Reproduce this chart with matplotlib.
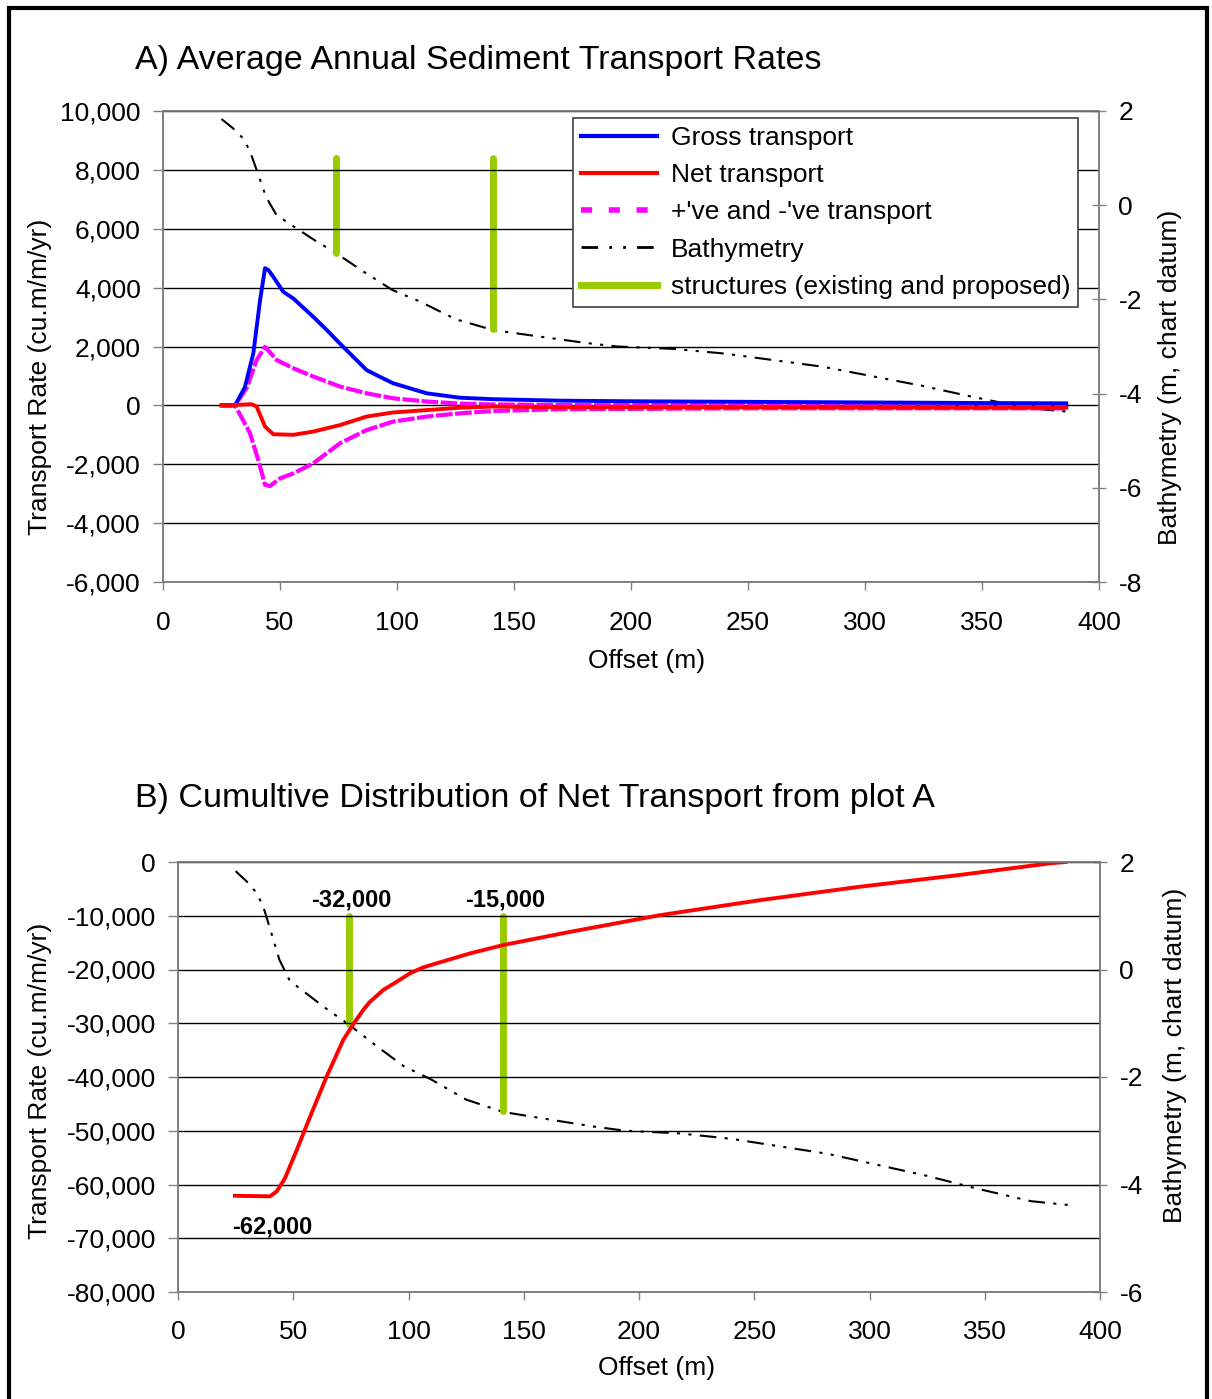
import numpy as np
import matplotlib
matplotlib.use('Agg')
import matplotlib.pyplot as plt
from matplotlib.lines import Line2D
from matplotlib.patches import Rectangle
from matplotlib.ticker import FuncFormatter, MultipleLocator

plt.rcParams['font.family'] = ['Liberation Sans', 'DejaVu Sans']

# bathymetry profile (m, chart datum) - same in both plots
bathy_x = [25, 30, 34, 37, 40.5, 44, 48.5, 57, 65, 74, 86, 98, 110, 125, 141,
           161, 180, 194, 218, 240, 261, 282, 303, 325, 346, 370, 386]
bathy_z = [1.83, 1.63, 1.43, 1.17, 0.68, 0.18, -0.21, -0.49, -0.75, -1.02, -1.42,
           -1.80, -2.05, -2.42, -2.65, -2.79, -2.92, -3.0, -3.05, -3.15, -3.29,
           -3.43, -3.63, -3.84, -4.07, -4.31, -4.38]

# plot A transport rates
gross_x = [25, 30.8, 35, 38.6, 41.5, 43.6, 45, 47.1, 51.4, 55.7, 64.2, 70, 75.6,
           81.3, 87, 92.7, 98.4, 112.7, 126.9, 141.2, 169.7, 200, 250, 300, 350, 386]
gross = [0, 0, 620, 1770, 3580, 4660, 4600, 4370, 3860, 3630, 3010, 2560, 2100,
         1650, 1200, 970, 750, 410, 260, 210, 160, 140, 120, 100, 80, 70]

net_x = [25, 35, 37.9, 40, 43.6, 47.1, 55.7, 64.2, 75.6, 87, 98.4, 112.7, 126.9,
         141.2, 170, 250, 386]
net = [0, 30, 40, -40, -720, -980, -1000, -890, -670, -380, -240, -160, -80,
       -40, -60, -60, -80]

pos_x = [25, 30.8, 35.8, 40, 43.6, 48.6, 55.7, 64.2, 75.6, 87, 98.4, 112.7,
         126.9, 141.2, 170, 250, 386]
pos = [0, 0, 600, 1540, 1990, 1540, 1260, 980, 640, 410, 240, 130, 60, 30, 10,
       0, -20]

neg_x = [25, 30.8, 37.2, 40.7, 43.6, 45.7, 50, 55.7, 64.2, 75.6, 87, 98.4, 112.7,
         126.9, 141.2, 170, 250, 386]
neg = [0, 0, -950, -1850, -2700, -2740, -2480, -2310, -1970, -1290, -840, -550,
       -380, -270, -190, -130, -100, -100]

# plot B cumulative net transport
cum_x = [24.7, 39.9, 42.8, 46.4, 51.5, 57.3, 64.5, 71.7, 75.4, 80.4, 83.3, 89.1,
         94.9, 100.7, 106.4, 112.2, 126.7, 141.1, 170.1, 209, 252.5, 295.9,
         339.3, 378.3, 385]
cum = [-62100, -62200, -61300, -58850, -53600, -47400, -39900, -33100, -30600,
       -27500, -26000, -23800, -22270, -20700, -19600, -18850, -17000, -15450,
       -13000, -9900, -7100, -4600, -2400, -250, 0]

# structures (offset, top and bottom on bathymetry axis)
struct_x = [74, 141]
struct_top = [1.0, 1.0]
struct_bot = [-1.02, -2.63]

cum_labels = ['-32,000', '-15,000', '-62,000']
cum_label_x = [75, 142, 41]
cum_label_y = [-7100, -7100, -67900]

W, H = 1212, 1399
fig = plt.figure(figsize=(W / 100, H / 100), dpi=100)

FS = 19
green = '#99cc00'
spine_c = '#808080'
comma = FuncFormatter(lambda v, p: f'{v:,.0f}')
intfmt = FuncFormatter(lambda v, p: f'{v:.0f}')
bathy_ls = (0, (8, 4, 1.5, 4, 1.5, 4))


def style_axes(ax, ax2, xpad):
    for a in (ax, ax2):
        for s in a.spines.values():
            s.set_color(spine_c)
            s.set_linewidth(1.2)
    ax.set_xlim(0, 400)
    ax.xaxis.set_major_locator(MultipleLocator(50))
    ax.tick_params(axis='x', direction='out', length=6, width=1, pad=xpad,
                   labelsize=FS, color=spine_c)
    ax.tick_params(axis='y', direction='out', length=7, width=1, pad=9,
                   labelsize=FS, color=spine_c)
    ax2.tick_params(axis='y', direction='inout', length=10, width=1, pad=9,
                    labelsize=FS, color=spine_c)
    ax.yaxis.set_major_formatter(comma)
    ax2.yaxis.set_major_formatter(intfmt)
    ax.grid(axis='y', color='black', linewidth=1.0)
    ax.set_axisbelow(True)


# ---------- plot A ----------
axA = fig.add_axes([163 / W, 1 - 582 / H, 936 / W, 471 / H])
axA2 = axA.twinx()
axA.set_zorder(axA2.get_zorder() + 1)
axA.patch.set_visible(False)

axA2.plot(bathy_x, bathy_z, color='black', lw=1.5, ls=bathy_ls)
for sx, st, sb in zip(struct_x, struct_top, struct_bot):
    axA2.plot([sx, sx], [st, sb], color=green, lw=5, solid_capstyle='round')

axA.plot(pos_x, pos, color='#ff00ff', lw=3, ls=(0, (4, 0.6)))
axA.plot(neg_x, neg, color='#ff00ff', lw=3, ls=(0, (4, 0.6)))
axA.plot(gross_x, gross, color='#0000ff', lw=2.8)
axA.plot(net_x, net, color='#ff0000', lw=2.8)

axA.set_ylim(-6000, 10000)
axA.yaxis.set_major_locator(MultipleLocator(2000))
axA2.set_ylim(-8, 2)
axA2.yaxis.set_major_locator(MultipleLocator(2))
style_axes(axA, axA2, 15)

handles = [
    Line2D([], [], color='#0000ff', lw=3),
    Line2D([], [], color='#ff0000', lw=3),
    Line2D([], [], color='#ff00ff', lw=4, ls=(0, (2, 3))),
    Line2D([], [], color='black', lw=2, ls=(0, (6, 4, 1, 4, 1, 4))),
    Line2D([], [], color=green, lw=5),
]
labels = ['Gross transport', 'Net transport', "+'ve and -'ve transport",
          'Bathymetry', 'structures (existing and proposed)']
leg = axA.legend(handles, labels, loc='upper right',
                 bbox_to_anchor=(0.9776, 0.985), fontsize=FS, frameon=True,
                 fancybox=False, framealpha=1, edgecolor='#404040',
                 handlelength=2.9, handletextpad=0.5, labelspacing=0.5,
                 borderpad=0.3, borderaxespad=0)
leg.get_frame().set_linewidth(1.2)

fig.text(135 / W, 1 - 60 / H, 'A) Average Annual Sediment Transport Rates',
         fontsize=24.5, ha='left', va='center')
fig.text(647 / W, 1 - 661 / H, 'Offset (m)', fontsize=FS, ha='center', va='center')
fig.text(40 / W, 1 - 377 / H, 'Transport Rate (cu.m/m/yr)', fontsize=FS,
         ha='center', va='center', rotation=90)
fig.text(1170 / W, 1 - 377 / H, 'Bathymetry (m, chart datum)', fontsize=FS,
         ha='center', va='center', rotation=90)

# ---------- plot B ----------
axB = fig.add_axes([178 / W, 1 - 1292 / H, 922 / W, 430 / H])
axB2 = axB.twinx()
axB.set_zorder(axB2.get_zorder() + 1)
axB.patch.set_visible(False)

axB2.plot(bathy_x, bathy_z, color='black', lw=1.5, ls=bathy_ls)
for sx, st, sb in zip(struct_x, struct_top, struct_bot):
    axB2.plot([sx, sx], [st, sb], color=green, lw=5, solid_capstyle='round')

axB.plot(cum_x, cum, color='#ff0000', lw=2.8)
for t, tx, ty in zip(cum_labels, cum_label_x, cum_label_y):
    axB.text(tx, ty, t, fontsize=17, fontweight='bold', ha='center', va='center')

axB.set_ylim(-80000, 0)
axB.yaxis.set_major_locator(MultipleLocator(10000))
axB2.set_ylim(-6, 2)
axB2.yaxis.set_major_locator(MultipleLocator(2))
style_axes(axB, axB2, 14)

fig.text(135 / W, 1 - 798 / H, 'B) Cumultive Distribution of Net Transport from plot A',
         fontsize=24.5, ha='left', va='center')
fig.text(657 / W, 1 - 1368 / H, 'Offset (m)', fontsize=FS, ha='center', va='center')
fig.text(40 / W, 1 - 1081 / H, 'Transport Rate (cu.m/m/yr)', fontsize=FS,
         ha='center', va='center', rotation=90)
fig.text(1175 / W, 1 - 1055 / H, 'Bathymetry (m, chart datum)', fontsize=FS,
         ha='center', va='center', rotation=90)

# outer frame
fig.patches.append(Rectangle((9 / W, -0.05), (1207 - 9) / W, 1 - 8 / H + 0.05,
                             transform=fig.transFigure, fill=False,
                             edgecolor='black', linewidth=3, clip_on=False))

fig.savefig('out.png', dpi=100)
